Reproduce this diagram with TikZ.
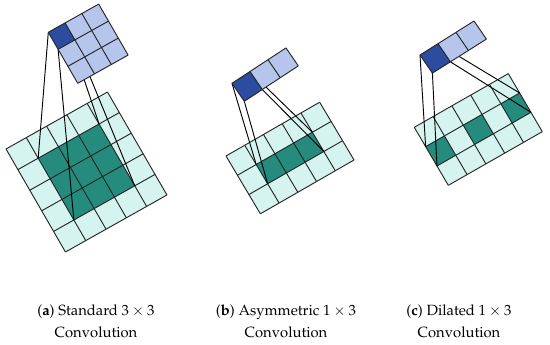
\documentclass[tikz,border=0pt]{standalone}
\usepackage[T1]{fontenc}
\usepackage{mathpazo}
\usepackage{xcolor}
\definecolor{kernlight}{RGB}{182,197,236}
\definecolor{kerndark}{RGB}{44,76,160}
\definecolor{maplight}{RGB}{213,244,239}
\definecolor{mapdark}{RGB}{36,139,125}
\usepackage{tikz}
\usetikzlibrary{calc}

\tikzset{
  cell/.style={black!85, line width=0.7pt},
  ray/.style={black, line width=0.7pt},
  caption/.style={anchor=base, align=center, font=\fontsize{11.1}{16.5}\selectfont}
}

\begin{document}
\begin{tikzpicture}[x=0.75pt, y=-0.75pt]
\useasboundingbox (0,0) rectangle (550,345);

% (a) standard 3x3 -- input map 5x5
\begin{scope}[shift={(6,149)}, x={(15.22pt,8.55pt)}, y={(8.92pt,-15.45pt)}]
  \fill[maplight] (0,0) -- (5,0) -- (5,5) -- (0,5) -- cycle;
  \fill[mapdark] (1,1) -- (4,1) -- (4,4) -- (1,4) -- cycle;
  \foreach \k in {0,...,5} {
    \draw[cell] (\k,0) -- (\k,5);
    \draw[cell] (0,\k) -- (5,\k);
  }
  \coordinate (a-g00) at (1,1);
  \coordinate (a-g10) at (4,1);
  \coordinate (a-g11) at (4,4);
  \coordinate (a-g01) at (1,4);
\end{scope}

\begin{scope}[shift={(48.3,32.3)}, x={(12.6pt,7.05pt)}, y={(7.35pt,-12.75pt)}]
  \coordinate (a-k00) at (0,0);
  \coordinate (a-k10) at (1,0);
  \coordinate (a-k11) at (1,1);
  \coordinate (a-k01) at (0,1);
  \foreach \c in {00,10,11,01}
    \draw[ray] (a-k\c) -- (a-g\c);
  \fill[kernlight] (0,0) -- (3,0) -- (3,3) -- (0,3) -- cycle;
  \fill[kerndark] (0,0) -- (1,0) -- (1,1) -- (0,1) -- cycle;
  \foreach \k in {0,...,3} {
    \draw[cell] (\k,0) -- (\k,3);
    \draw[cell] (0,\k) -- (3,\k);
  }
\end{scope}

% (b) asymmetric 1x3 -- input map 5x3
\begin{scope}[shift={(226,156)}, x={(14.05pt,8.07pt)}, y={(8.59pt,-14.45pt)}]
  \fill[maplight] (0,0) -- (5,0) -- (5,3) -- (0,3) -- cycle;
  \fill[mapdark] (1,1) -- (4,1) -- (4,2) -- (1,2) -- cycle;
  \foreach \k in {0,...,5}
    \draw[cell] (\k,0) -- (\k,3);
  \foreach \k in {0,...,3}
    \draw[cell] (0,\k) -- (5,\k);
  \coordinate (b-g00) at (1,1);
  \coordinate (b-g10) at (4,1);
  \coordinate (b-g11) at (4,2);
  \coordinate (b-g01) at (1,2);
\end{scope}

\begin{scope}[shift={(232,83.3)}, x={(13.5pt,8.85pt)}, y={(9.22pt,-13.5pt)}]
  \coordinate (b-k00) at (0,0);
  \coordinate (b-k10) at (1,0);
  \coordinate (b-k11) at (1,1);
  \coordinate (b-k01) at (0,1);
  \foreach \c in {00,10,11,01}
    \draw[ray] (b-k\c) -- (b-g\c);
  \fill[kernlight] (0,0) -- (3,0) -- (3,1) -- (0,1) -- cycle;
  \fill[kerndark] (0,0) -- (1,0) -- (1,1) -- (0,1) -- cycle;
  \foreach \k in {0,...,3}
    \draw[cell] (\k,0) -- (\k,1);
  \draw[cell] (0,0) -- (3,0) (0,1) -- (3,1);
\end{scope}

% (c) dilated 1x3 -- input map 5x3, every second cell
\begin{scope}[shift={(414.3,127.3)}, x={(14.1pt,8.05pt)}, y={(8.5pt,-14.51pt)}]
  \fill[maplight] (0,0) -- (5,0) -- (5,3) -- (0,3) -- cycle;
  \foreach \i in {0,2,4}
    \fill[mapdark] (\i,1) -- (\i+1,1) -- (\i+1,2) -- (\i,2) -- cycle;
  \foreach \k in {0,...,5}
    \draw[cell] (\k,0) -- (\k,3);
  \foreach \k in {0,...,3}
    \draw[cell] (0,\k) -- (5,\k);
  \coordinate (c-g00) at (0,1);
  \coordinate (c-g10) at (5,1);
  \coordinate (c-g11) at (5,2);
  \coordinate (c-g01) at (0,2);
\end{scope}

\begin{scope}[shift={(420,55)}, x={(13.5pt,8.5pt)}, y={(9.3pt,-13.6pt)}]
  \coordinate (c-k00) at (0,0);
  \coordinate (c-k10) at (1,0);
  \coordinate (c-k11) at (1,1);
  \coordinate (c-k01) at (0,1);
  \foreach \c in {00,10,11,01}
    \draw[ray] (c-k\c) -- (c-g\c);
  \fill[kernlight] (0,0) -- (3,0) -- (3,1) -- (0,1) -- cycle;
  \fill[kerndark] (0,0) -- (1,0) -- (1,1) -- (0,1) -- cycle;
  \foreach \k in {0,...,3}
    \draw[cell] (\k,0) -- (\k,1);
  \draw[cell] (0,0) -- (3,0) (0,1) -- (3,1);
\end{scope}

% captions (base = last line)
\node[caption] (capa) at (96,338) {(\textbf{a}) Standard $3\times3$\\Convolution};
\node[caption] (capb) at (286,338) {(\textbf{b}) Asymmetric $1\times3$\\Convolution};
\node[caption] (capc) at (459,338) {(\textbf{c}) Dilated $1\times3$\\Convolution};
\end{tikzpicture}
\end{document}
